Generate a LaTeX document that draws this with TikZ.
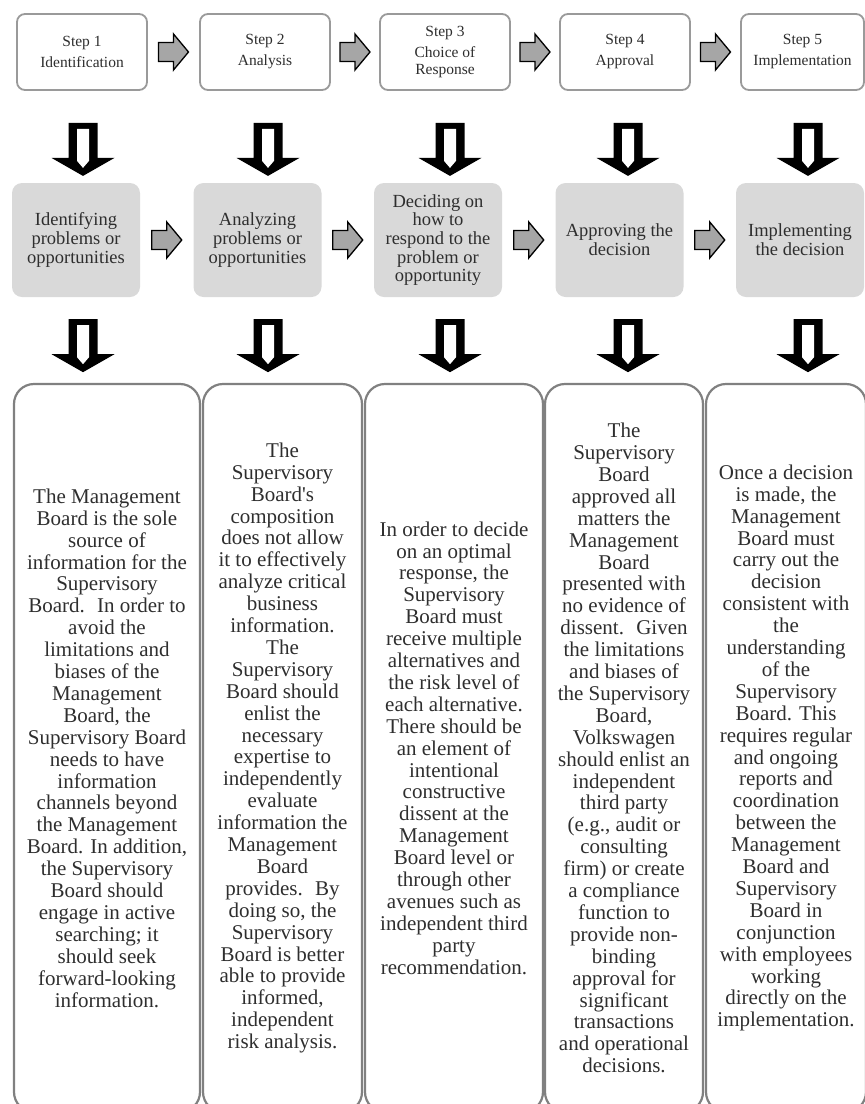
\documentclass[tikz,border=0pt]{standalone}
\usepackage{fontspec}
\setmainfont{Liberation Serif}
\usetikzlibrary{calc}
\definecolor{topline}{HTML}{9A9A9A}
\definecolor{midfill}{HTML}{D9D9D9}
\definecolor{botline}{HTML}{808080}
\definecolor{arrowfill}{HTML}{A6A6A6}
\definecolor{txt}{HTML}{2E2E2E}
\tikzset{
  stepbox/.style={draw=topline, line width=1.8pt, fill=white, rounded corners=8pt,
    minimum width=130pt, minimum height=76pt, inner sep=0pt, align=center,
    font=\fontsize{15.5}{17}\selectfont, text=txt},
  midbox/.style={fill=midfill, rounded corners=10pt, minimum width=128pt,
    minimum height=114pt, inner sep=0pt, align=center,
    font=\fontsize{18.5}{18.7}\selectfont, text=txt},
  botbox/.style={draw=botline, line width=2.2pt, rounded corners=20pt,
    minimum height=728pt, inner sep=0pt, align=center,
    font=\fontsize{21}{21.9}\selectfont, text=txt},
  rarrow/.pic={\draw[fill=arrowfill, line width=1.3pt, line join=miter]
    (-15,-9.5) -- (0,-9.5) -- (0,-18) -- (15,0) -- (0,18) -- (0,9.5) -- (-15,9.5) -- cycle;},
  darrow/.pic={\fill[black] (-14.5,0) -- (14.5,0) -- (14.5,-35) -- (31.5,-35) -- (0,-53)
      -- (-31.5,-35) -- (-14.5,-35) -- cycle;
    \fill[white] (-6,-6) -- (6,-6) -- (6,-38) -- (0,-45) -- (-6,-38) -- cycle;},
}
\begin{document}
\begin{tikzpicture}[x=1pt,y=1pt]
\useasboundingbox (0,0) rectangle (865,-1104);
\clip (0,0) rectangle (865,-1104);
% top row
\node[stepbox] (s1) at (82,-52) {Step 1\\[4pt]Identification};
\node[stepbox] (s2) at (265,-52) {Step 2\\[4pt]Analysis};
\node[stepbox] (s3) at (445,-52) {Step 3\\[4pt]Choice of\\Response};
\node[stepbox] (s4) at (625,-52) {Step 4\\[4pt]Approval};
\node[stepbox, minimum width=123pt] (s5) at (802.5,-52) {Step 5\\[4pt]Implementation};
% middle row
\node[midbox] (m1) at (76,-240) {Identifying\\problems or\\opportunities};
\node[midbox] (m2) at (257.5,-240) {Analyzing\\problems or\\opportunities};
\node[midbox] (m3) at (438,-240) {Deciding on\\how to\\respond to the\\problem or\\opportunity};
\node[midbox] (m4) at (619.5,-240) {Approving the\\decision};
\node[midbox] (m5) at (800,-240) {Implementing\\the decision};
% bottom row
\node[botbox, minimum width=186pt] (b1) at (107,-748) {The Management\\Board is the sole\\source of\\information for the\\Supervisory\\Board.~ In order to\\avoid the\\limitations and\\biases of the\\Management\\Board, the\\Supervisory Board\\needs to have\\information\\channels beyond\\the Management\\Board. In addition,\\the Supervisory\\Board should\\engage in active\\searching; it\\should seek\\forward-looking\\information.};
\node[botbox, minimum width=159pt] (b2) at (282.5,-748) {The\\Supervisory\\Board\textquotesingle s\\composition\\does not allow\\it to effectively\\analyze critical\\business\\information.\\The\\Supervisory\\Board should\\enlist the\\necessary\\expertise to\\independently\\evaluate\\information the\\Management\\Board\\provides.~ By\\doing so, the\\Supervisory\\Board is better\\able to provide\\informed,\\independent\\risk analysis.};
\node[botbox, minimum width=178pt] (b3) at (454,-748) {In order to decide\\on an optimal\\response, the\\Supervisory\\Board must\\receive multiple\\alternatives and\\the risk level of\\each alternative.\\There should be\\an element of\\intentional\\constructive\\dissent at the\\Management\\Board level or\\through other\\avenues such as\\independent third\\party\\recommendation.};
\node[botbox, minimum width=158pt] (b4) at (624,-748) {The\\Supervisory\\Board\\approved all\\matters the\\Management\\Board\\presented with\\no evidence of\\dissent.~ Given\\the limitations\\and biases of\\the Supervisory\\Board,\\Volkswagen\\should enlist an\\independent\\third party\\(e.g., audit or\\consulting\\firm) or create\\a compliance\\function to\\provide non-\\binding\\approval for\\significant\\transactions\\and operational\\decisions.};
\node[botbox, minimum width=160pt] (b5) at (786,-748) {Once a decision\\is made, the\\Management\\Board must\\carry out the\\decision\\consistent with\\the\\understanding\\of the\\Supervisory\\Board. This\\requires regular\\and ongoing\\reports and\\coordination\\between the\\Management\\Board and\\Supervisory\\Board in\\conjunction\\with employees\\working\\directly on the\\implementation.};
% horizontal arrows, top row
\path ($(s1.east)!0.5!(s2.west)$) pic {rarrow};
\path ($(s2.east)!0.5!(s3.west)$) pic {rarrow};
\path ($(s3.east)!0.5!(s4.west)$) pic {rarrow};
\path ($(s4.east)!0.5!(s5.west)$) pic {rarrow};
% horizontal arrows, middle row
\path ($(m1.east)!0.5!(m2.west)$) pic {rarrow};
\path ($(m2.east)!0.5!(m3.west)$) pic {rarrow};
\path ($(m3.east)!0.5!(m4.west)$) pic {rarrow};
\path ($(m4.east)!0.5!(m5.west)$) pic {rarrow};
% down arrows, first row
\path ($(s1.south)+(1,-32)$) pic {darrow};
\path ($(s2.south)+(3,-32)$) pic {darrow};
\path ($(s3.south)+(5,-32)$) pic {darrow};
\path ($(s4.south)+(3,-32)$) pic {darrow};
\path ($(s5.south)+(5.5,-32)$) pic {darrow};
% down arrows, second row
\path ($(s1.south |- m1.south)+(1,-22)$) pic {darrow};
\path ($(s2.south |- m2.south)+(3,-22)$) pic {darrow};
\path ($(s3.south |- m3.south)+(5,-22)$) pic {darrow};
\path ($(s4.south |- m4.south)+(3,-22)$) pic {darrow};
\path ($(s5.south |- m5.south)+(5.5,-22)$) pic {darrow};
\end{tikzpicture}
\end{document}
